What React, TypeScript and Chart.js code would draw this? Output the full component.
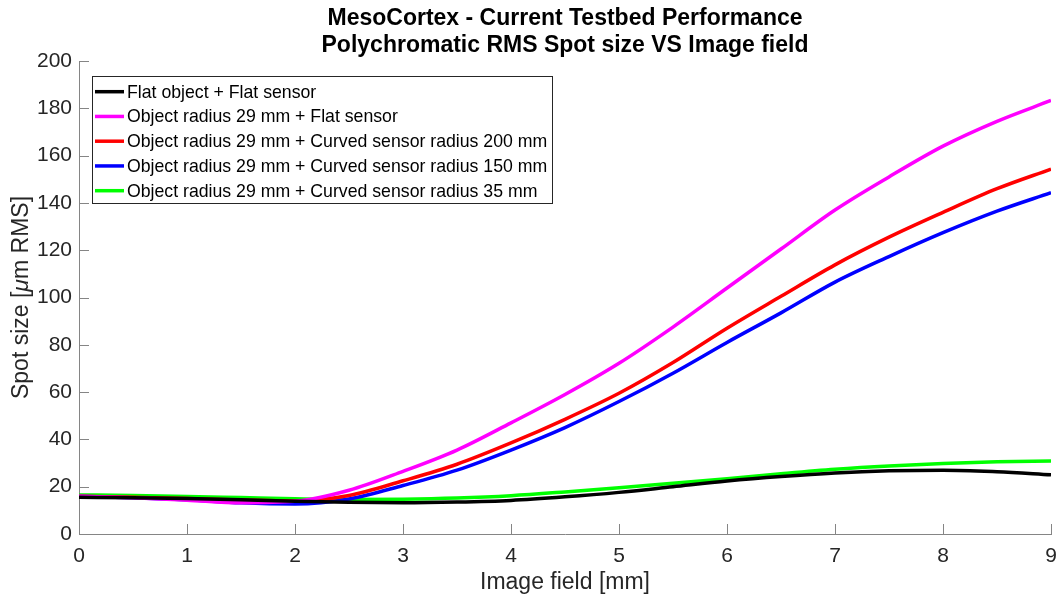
import React, { useEffect, useRef } from "react";
import { Chart, registerables } from "chart.js";

Chart.register(...registerables);

// Image field [mm]
const field = [0, 0.5, 1, 1.5, 2, 2.5, 3, 3.5, 4, 4.5, 5, 5.5, 6, 6.5, 7, 7.5, 8, 8.5, 9];

// Spot size [µm RMS]
const flatObjFlatSensor = [15.5, 15.3, 15.0, 14.5, 13.8, 13.4, 13.2, 13.5, 14.2, 15.7, 17.6, 20.0, 22.4, 24.3, 25.8, 26.7, 27.0, 26.3, 25.0];
const objR29FlatSensor = [16.0, 15.3, 14.3, 13.2, 13.8, 18.5, 26.5, 35.5, 47.0, 59.0, 72.2, 87.5, 104.0, 120.5, 137.0, 151.0, 164.0, 174.5, 183.3];
const objR29Curved200 = [16.0, 15.5, 15.0, 14.4, 14.0, 16.3, 22.5, 29.5, 38.5, 48.5, 59.5, 72.5, 87.0, 100.5, 113.8, 125.5, 136.0, 146.0, 154.3];
const objR29Curved150 = [16.0, 15.3, 14.5, 13.2, 12.7, 14.8, 20.5, 27.0, 35.5, 45.0, 56.0, 68.0, 81.0, 93.5, 106.5, 117.3, 127.4, 136.5, 144.3];
const objR29Curved35 = [16.5, 16.3, 15.9, 15.4, 14.9, 14.6, 14.7, 15.2, 16.2, 17.8, 19.6, 21.5, 23.4, 25.5, 27.4, 28.8, 29.8, 30.5, 30.9];

const seriesLabels = [
  "Flat object + Flat sensor",
  "Object radius 29 mm + Flat sensor",
  "Object radius 29 mm + Curved sensor radius 200 mm",
  "Object radius 29 mm + Curved sensor radius 150 mm",
  "Object radius 29 mm + Curved sensor radius 35 mm",
];
const seriesValues = [flatObjFlatSensor, objR29FlatSensor, objR29Curved200, objR29Curved150, objR29Curved35];
const seriesColors = ["#000000", "#ff00ff", "#ff0000", "#0000ff", "#00ff00"];

const titleLines = ["MesoCortex - Current Testbed Performance", "Polychromatic RMS Spot size VS Image field"];
const xTitle = "Image field [mm]";
const yTitleParts = ["Spot size [", "\u03bc", "m RMS]"];

const FONT = "'Liberation Sans', Arial, Helvetica, sans-serif";
const AXIS_COLOR = "#858585";
const TEXT_COLOR = "#262626";

const decorPlugin = {
  id: "matlabDecor",
  beforeDatasetsDraw(chart: any) {
    const { ctx, chartArea, scales } = chart;
    const xs = scales.x;
    const ys = scales.y;
    ctx.save();
    ctx.strokeStyle = AXIS_COLOR;
    ctx.lineWidth = 1;
    ctx.beginPath();
    xs.ticks.forEach((t: any) => {
      const px = Math.round(xs.getPixelForValue(t.value)) + 0.5;
      ctx.moveTo(px, chartArea.bottom);
      ctx.lineTo(px, chartArea.bottom - 10);
    });
    ys.ticks.forEach((t: any) => {
      const py = Math.round(ys.getPixelForValue(t.value)) + 0.5;
      ctx.moveTo(chartArea.left, py);
      ctx.lineTo(chartArea.left + 10, py);
    });
    ctx.stroke();
    ctx.restore();
  },
  afterDraw(chart: any) {
    const { ctx, chartArea } = chart;
    ctx.save();
    // Title
    ctx.fillStyle = "#000";
    ctx.font = `bold 23px ${FONT}`;
    ctx.textAlign = "center";
    ctx.textBaseline = "middle";
    const cx = (chartArea.left + chartArea.right) / 2;
    ctx.fillText(titleLines[0], cx, 18.5);
    ctx.fillText(titleLines[1], cx, 46);

    // X axis title
    ctx.fillStyle = TEXT_COLOR;
    ctx.font = `23px ${FONT}`;
    ctx.fillText(xTitle, cx, 583);

    // Y axis title (rotated, with italic mu)
    ctx.save();
    ctx.translate(22, (chartArea.top + chartArea.bottom) / 2);
    ctx.rotate(-Math.PI / 2);
    const fonts = [`23px ${FONT}`, `italic 23px ${FONT}`, `23px ${FONT}`];
    let total = 0;
    const widths = yTitleParts.map((p, i) => {
      ctx.font = fonts[i];
      const w = ctx.measureText(p).width;
      total += w;
      return w;
    });
    let x = -total / 2;
    ctx.textAlign = "left";
    yTitleParts.forEach((p, i) => {
      ctx.font = fonts[i];
      ctx.fillText(p, x, 0);
      x += widths[i];
    });
    ctx.restore();

    // Legend
    const lx = 92, ly = 76, lw = 460, lh = 127;
    ctx.fillStyle = "#fff";
    ctx.fillRect(lx, ly, lw, lh);
    ctx.strokeStyle = "#262626";
    ctx.lineWidth = 1;
    ctx.strokeRect(lx + 0.5, ly + 0.5, lw, lh);
    ctx.font = `17.7px ${FONT}`;
    ctx.textAlign = "left";
    ctx.textBaseline = "middle";
    seriesLabels.forEach((lab, i) => {
      const y = 91.7 + i * 24.75;
      ctx.strokeStyle = seriesColors[i];
      ctx.lineWidth = 3.5;
      ctx.beginPath();
      ctx.moveTo(95, y);
      ctx.lineTo(124, y);
      ctx.stroke();
      ctx.fillStyle = "#000";
      ctx.fillText(lab, 127, y + 1);
    });
    ctx.restore();
  },
};

export default function App() {
  const ref = useRef<HTMLCanvasElement>(null);
  useEffect(() => {
    const canvas = ref.current;
    if (!canvas) return;
    const chart = new Chart(canvas, {
      type: "line",
      data: {
        datasets: seriesLabels.map((label, i) => ({
          label,
          data: field.map((x, j) => ({ x, y: seriesValues[i][j] })),
          borderColor: seriesColors[i],
          backgroundColor: seriesColors[i],
          borderWidth: 3.5,
          pointRadius: 0,
          fill: false,
          cubicInterpolationMode: "monotone" as const,
        })),
      },
      options: {
        animation: false,
        responsive: false,
        layout: { padding: { top: 61, right: 8, left: 0, bottom: 0 } },
        plugins: {
          legend: { display: false },
          title: { display: false },
          tooltip: { enabled: false },
        },
        scales: {
          x: {
            type: "linear",
            min: 0,
            max: 9,
            ticks: { stepSize: 1, color: TEXT_COLOR, font: { family: FONT, size: 21 }, padding: 10, maxRotation: 0 },
            grid: { display: false, drawTicks: false },
            border: { display: true, color: AXIS_COLOR, width: 1 },
            afterFit: (s: any) => {
              s.height = 66;
              s.paddingLeft = 0;
              s.paddingRight = 0;
            },
          },
          y: {
            type: "linear",
            min: 0,
            max: 200,
            ticks: { stepSize: 20, color: TEXT_COLOR, font: { family: FONT, size: 21 }, padding: 7 },
            grid: { display: false, drawTicks: false },
            border: { display: true, color: AXIS_COLOR, width: 1 },
            afterFit: (s: any) => {
              s.width = 79;
            },
          },
        },
      },
      plugins: [decorPlugin],
    });
    return () => chart.destroy();
  }, []);
  return (
    <div style={{ position: "fixed", left: 0, top: 0, width: 1059, height: 600, background: "#fff" }}>
      <canvas ref={ref} width={1059} height={600} style={{ display: "block" }} />
    </div>
  );
}
